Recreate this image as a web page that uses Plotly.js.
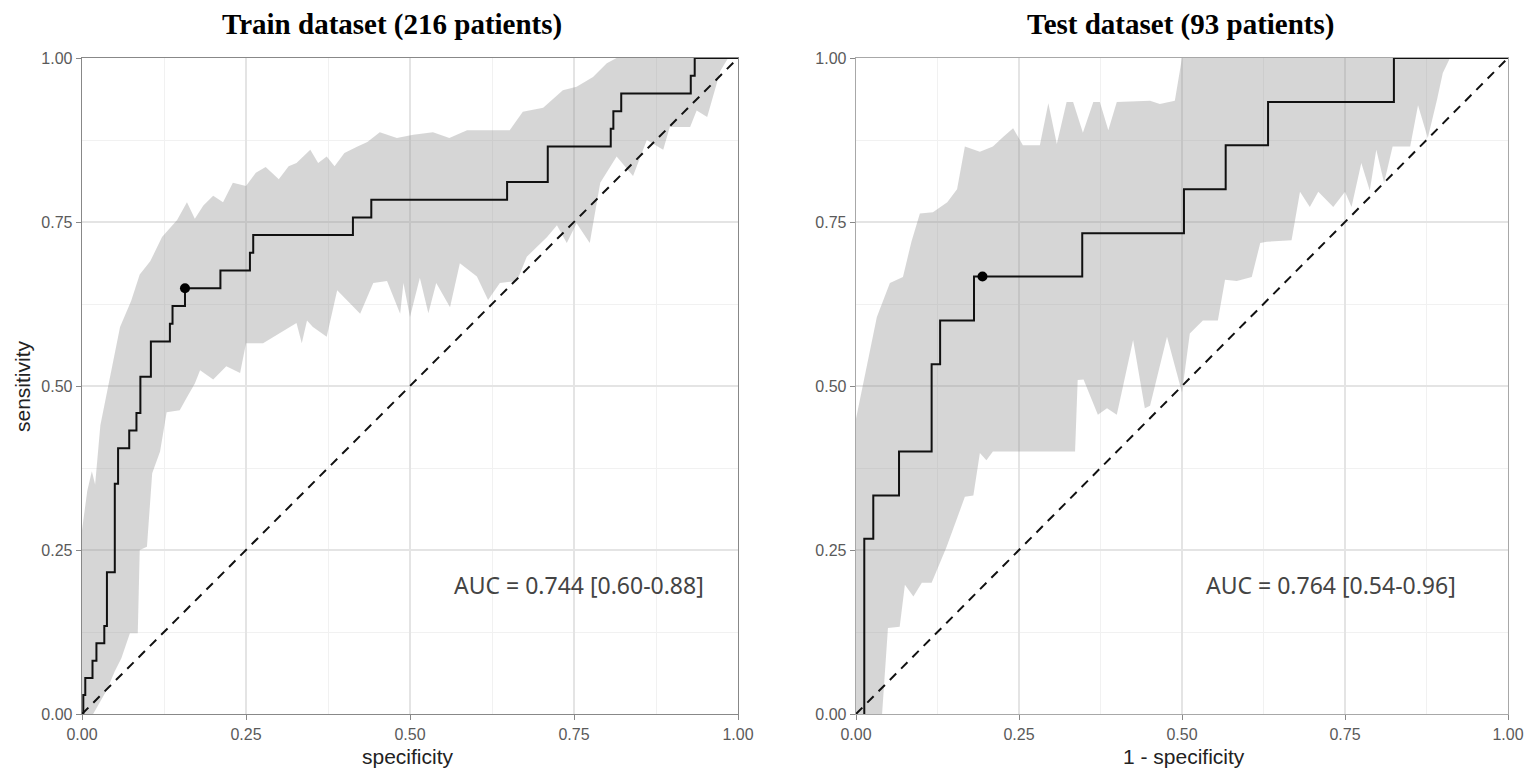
<!DOCTYPE html>
<html>
<head>
<meta charset="utf-8">
<script src="https://cdn.plot.ly/plotly-3.0.1.min.js"></script>
<style>
  html, body { margin: 0; padding: 0; background: #fff; }
  #graph { width: 1535px; height: 775px; }
</style>
</head>
<body>
<div id="graph"></div>
<script>
// --- train ROC (step corners: x of vertical segment, y at its top)
const trainFpr = [0.002, 0.002, 0.005, 0.016, 0.022, 0.034, 0.038, 0.050, 0.055, 0.072, 0.083, 0.089,
  0.105, 0.134, 0.138, 0.157, 0.211, 0.256, 0.261, 0.413, 0.441, 0.648, 0.710, 0.806, 0.810, 0.822,
  0.928, 0.934, 1.0];
const trainTpr = [0, 0.029, 0.055, 0.081, 0.108, 0.134, 0.216, 0.351, 0.405, 0.432, 0.459, 0.514,
  0.568, 0.595, 0.622, 0.649, 0.676, 0.703, 0.730, 0.757, 0.784, 0.811, 0.865, 0.892, 0.919, 0.946,
  0.973, 1.0, 1.0];
const trainBest = {x: [0.157], y: [0.649]};

// --- train confidence band
const trainUpX = [0, 0.008, 0.015, 0.02, 0.028, 0.04, 0.058, 0.075, 0.088, 0.104, 0.122, 0.145, 0.16,
  0.172, 0.185, 0.2, 0.215, 0.23, 0.25, 0.265, 0.28, 0.30, 0.315, 0.327, 0.348, 0.36, 0.373, 0.385,
  0.40, 0.42, 0.435, 0.454, 0.48, 0.505, 0.535, 0.56, 0.587, 0.652, 0.672, 0.703, 0.733, 0.754,
  0.779, 0.80, 0.815, 1.0];
const trainUpY = [0.28, 0.34, 0.37, 0.35, 0.44, 0.50, 0.59, 0.63, 0.67, 0.69, 0.727, 0.753, 0.78,
  0.755, 0.775, 0.79, 0.78, 0.81, 0.805, 0.825, 0.834, 0.815, 0.835, 0.84, 0.86, 0.84, 0.85, 0.835,
  0.855, 0.865, 0.872, 0.887, 0.878, 0.883, 0.887, 0.878, 0.89, 0.89, 0.918, 0.924, 0.951, 0.956,
  0.971, 0.992, 1.0, 1.0];
const trainLoX = [0, 0.017, 0.038, 0.05, 0.06, 0.073, 0.085, 0.088, 0.099, 0.107, 0.119, 0.129, 0.149,
  0.16, 0.172, 0.18, 0.2, 0.22, 0.241, 0.25, 0.276, 0.30, 0.327, 0.335, 0.343, 0.352, 0.373, 0.389,
  0.404, 0.424, 0.444, 0.465, 0.485, 0.49, 0.5, 0.515, 0.528, 0.54, 0.561, 0.576, 0.602, 0.619,
  0.637, 0.663, 0.678, 0.709, 0.724, 0.739, 0.754, 0.774, 0.79, 0.815, 0.84, 0.861, 0.886, 0.896,
  0.927, 0.937, 0.953, 0.973, 0.985, 1.0];
const trainLoY = [0, 0, 0.037, 0.065, 0.085, 0.123, 0.123, 0.25, 0.255, 0.367, 0.40, 0.46, 0.463,
  0.483, 0.504, 0.524, 0.51, 0.53, 0.52, 0.565, 0.565, 0.58, 0.596, 0.565, 0.6, 0.59, 0.575, 0.646,
  0.63, 0.61, 0.657, 0.66, 0.61, 0.657, 0.605, 0.665, 0.611, 0.657, 0.62, 0.687, 0.667, 0.631,
  0.657, 0.66, 0.697, 0.727, 0.745, 0.718, 0.748, 0.718, 0.81, 0.85, 0.82, 0.875, 0.86, 0.895,
  0.895, 0.92, 0.91, 0.98, 1.0, 1.0];

// --- test ROC
const testFpr = [0.0127, 0.0127, 0.0265, 0.066, 0.116, 0.129, 0.181, 0.347, 0.503, 0.567, 0.632, 0.825, 1.0];
const testTpr = [0, 0.267, 0.333, 0.40, 0.533, 0.60, 0.667, 0.733, 0.80, 0.867, 0.933, 1.0, 1.0];
const testBest = {x: [0.194], y: [0.667]};

// --- test confidence band
const testUpX = [0, 0.011, 0.032, 0.052, 0.072, 0.085, 0.098, 0.118, 0.14, 0.155, 0.167, 0.19, 0.21,
  0.226, 0.241, 0.256, 0.282, 0.295, 0.308, 0.323, 0.333, 0.348, 0.364, 0.374, 0.387, 0.40, 0.451,
  0.466, 0.489, 0.50, 1.0];
const testUpY = [0.45, 0.505, 0.605, 0.657, 0.666, 0.72, 0.763, 0.765, 0.78, 0.80, 0.865, 0.857, 0.865,
  0.88, 0.893, 0.867, 0.867, 0.931, 0.869, 0.933, 0.933, 0.886, 0.933, 0.933, 0.89, 0.933, 0.935,
  0.93, 0.935, 1.0, 1.0];
const testLoX = [0, 0.04, 0.049, 0.067, 0.075, 0.088, 0.101, 0.116, 0.139, 0.167, 0.18, 0.19, 0.20,
  0.21, 0.336, 0.340, 0.349, 0.371, 0.385, 0.40, 0.425, 0.443, 0.451, 0.477, 0.50, 0.512, 0.532,
  0.555, 0.566, 0.584, 0.607, 0.62, 0.63, 0.668, 0.681, 0.696, 0.709, 0.732, 0.75, 0.76, 0.775,
  0.788, 0.798, 0.81, 0.823, 0.85, 0.862, 0.877, 0.891, 0.90, 0.911, 1.0];
const testLoY = [0, 0, 0.131, 0.133, 0.197, 0.179, 0.2, 0.2, 0.255, 0.331, 0.333, 0.398, 0.387,
  0.40, 0.40, 0.509, 0.51, 0.456, 0.466, 0.456, 0.57, 0.466, 0.47, 0.575, 0.49, 0.58, 0.60,
  0.60, 0.662, 0.66, 0.666, 0.718, 0.72, 0.722, 0.796, 0.773, 0.796, 0.773, 0.796, 0.773, 0.84,
  0.798, 0.86, 0.81, 0.865, 0.865, 0.928, 0.878, 0.936, 0.977, 1.0, 1.0];

const diag = [0, 1];
const ticks = [0, 0.25, 0.5, 0.75, 1];

function band(upX, upY, loX, loY, xa, ya) {
    return {
        x: upX.concat(loX.slice().reverse()),
        y: upY.concat(loY.slice().reverse()),
        xaxis: xa, yaxis: ya,
        type: 'scatter', mode: 'lines', fill: 'toself',
        fillcolor: 'rgba(140,140,140,0.36)',
        line: {width: 0}, hoverinfo: 'skip'
    };
}

function roc(fpr, tpr, xa, ya) {
    return {
        x: fpr, y: tpr, xaxis: xa, yaxis: ya,
        type: 'scatter', mode: 'lines',
        line: {color: '#111', width: 2, shape: 'hv'},
        cliponaxis: false
    };
}

function diagonal(xa, ya) {
    return {
        x: diag, y: diag, xaxis: xa, yaxis: ya,
        type: 'scatter', mode: 'lines',
        line: {color: '#111', width: 2, dash: '9px,7px'}
    };
}

function best(p, xa, ya) {
    return {
        x: p.x, y: p.y, xaxis: xa, yaxis: ya,
        type: 'scatter', mode: 'markers',
        marker: {color: '#000', size: 10}
    };
}

const data = [
    band(trainUpX, trainUpY, trainLoX, trainLoY, 'x', 'y'),
    diagonal('x', 'y'),
    roc(trainFpr, trainTpr, 'x', 'y'),
    best(trainBest, 'x', 'y'),
    band(testUpX, testUpY, testLoX, testLoY, 'x2', 'y2'),
    diagonal('x2', 'y2'),
    roc(testFpr, testTpr, 'x2', 'y2'),
    best(testBest, 'x2', 'y2')
];

function axis(domain, anchor, lineColor) {
    return {
        domain: domain, anchor: anchor,
        range: [0, 1], fixedrange: true,
        tickvals: ticks, tickformat: '.2f',
        ticks: 'outside', ticklen: 5, tickwidth: 1, tickcolor: '#888',
        tickfont: {family: 'Liberation Sans, Arial, sans-serif', size: 16, color: '#5a5a5a'},
        showline: true, mirror: true, linecolor: lineColor, linewidth: 1.3,
        showgrid: true, gridcolor: '#e4e4e4', gridwidth: 1.2,
        minor: {tickvals: [0.125, 0.375, 0.625, 0.875], showgrid: true, gridcolor: '#f1f1f1', gridwidth: 1, ticks: ''},
        zeroline: false, automargin: false
    };
}

const yDom = [1 - 714 / 775, 1 - 58 / 775];
const serif = 'Liberation Serif, Times New Roman, serif';
const sans = 'Liberation Sans, Arial, sans-serif';

const layout = {
    width: 1535, height: 775,
    margin: {l: 0, r: 0, t: 0, b: 0},
    paper_bgcolor: '#fff', plot_bgcolor: '#fff',
    showlegend: false,
    xaxis: axis([82 / 1535, 738 / 1535], 'y', '#888'),
    yaxis: axis(yDom, 'x', '#888'),
    xaxis2: axis([856 / 1535, 1508 / 1535], 'y2', '#a8a8a8'),
    yaxis2: axis(yDom, 'x2', '#a8a8a8'),
    annotations: [
        {text: '<b>Train dataset (216 patients)</b>', xref: 'paper', yref: 'paper',
         x: 392 / 1535, y: 1 - 25 / 775, showarrow: false, xanchor: 'center', yanchor: 'middle',
         font: {family: serif, size: 29, color: '#000'}},
        {text: '<b>Test dataset (93 patients)</b>', xref: 'paper', yref: 'paper',
         x: 1180 / 1535, y: 1 - 25 / 775, showarrow: false, xanchor: 'center', yanchor: 'middle',
         font: {family: serif, size: 29, color: '#000'}},
        {text: 'specificity', xref: 'paper', yref: 'paper',
         x: 408 / 1535, y: 1 - 756 / 775, showarrow: false, xanchor: 'center', yanchor: 'middle',
         font: {family: sans, size: 21, color: '#222'}},
        {text: '1 - specificity', xref: 'paper', yref: 'paper',
         x: 1184 / 1535, y: 1 - 756 / 775, showarrow: false, xanchor: 'center', yanchor: 'middle',
         font: {family: sans, size: 21, color: '#222'}},
        {text: 'sensitivity', xref: 'paper', yref: 'paper', textangle: -90,
         x: 22 / 1535, y: 1 - 386 / 775, showarrow: false, xanchor: 'center', yanchor: 'middle',
         font: {family: sans, size: 21, color: '#222'}},
        {text: 'AUC = 0.744 [0.60-0.88]', xref: 'paper', yref: 'paper',
         x: 579 / 1535, y: 1 - 585 / 775, showarrow: false, xanchor: 'center', yanchor: 'middle',
         font: {family: 'Noto Sans, sans-serif', size: 23, color: '#444'}},
        {text: 'AUC = 0.764 [0.54-0.96]', xref: 'paper', yref: 'paper',
         x: 1331 / 1535, y: 1 - 585 / 775, showarrow: false, xanchor: 'center', yanchor: 'middle',
         font: {family: 'Noto Sans, sans-serif', size: 23, color: '#444'}}
    ]
};

Plotly.newPlot('graph', data, layout, {staticPlot: true});
</script>
</body>
</html>
